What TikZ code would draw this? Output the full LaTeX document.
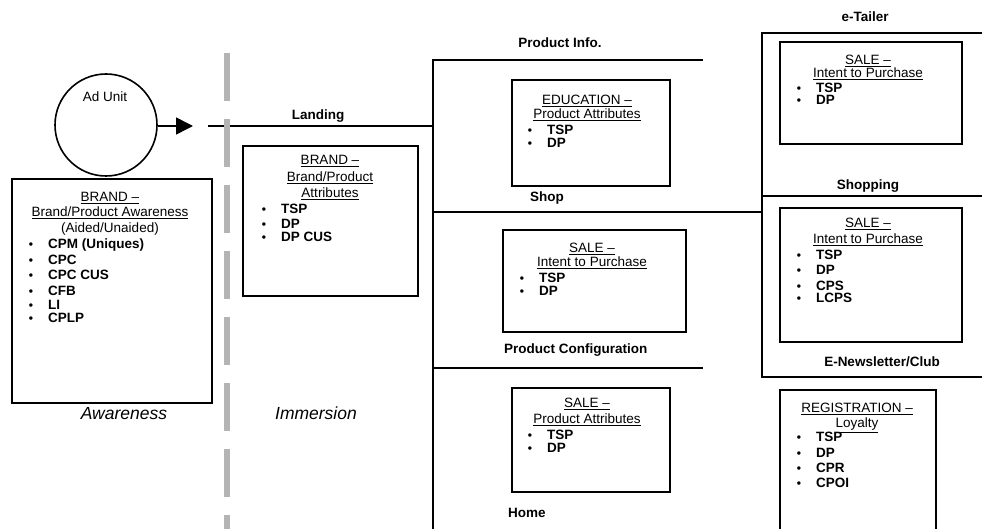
\documentclass[tikz,border=0pt]{standalone}
\usepackage{fontspec}
\setmainfont{Liberation Sans}
\usetikzlibrary{arrows.meta}
\definecolor{dashgray}{RGB}{180,180,180}
\tikzset{
  frame/.style={draw, line width=1.6pt, inner sep=0pt},
  hd/.style={inner sep=0pt, font=\fontsize{13.5}{15}\selectfont, text height=9.6pt, text depth=0pt},
  bi/.style={inner sep=0pt, font=\fontsize{13.5}{15}\selectfont\bfseries, text height=9.6pt, text depth=0pt, anchor=west},
  bul/.style={inner sep=0pt, font=\fontsize{12}{15}\selectfont\bfseries, text height=8.6pt, text depth=0pt},
  lbl/.style={inner sep=0pt, font=\fontsize{13.5}{15}\selectfont\bfseries, text height=9.6pt, text depth=0pt},
  stage/.style={inner sep=0pt, font=\fontsize{17.5}{20}\selectfont\itshape, text height=12.5pt, text depth=0pt},
  rulew/.style={line width=1.6pt},
}
\newcommand{\itm}[4]{\node[bul] (#1b) at (#2,#3) {•}; \node[bi] (#1) at (#2+17,#3) {#4};}
\begin{document}
\begin{tikzpicture}[x=1pt,y=-1pt]
\useasboundingbox (0,0) rectangle (982,529);
\clip (0,0) rectangle (982,529);

% ---- Ad unit and arrow
\node[draw, circle, line width=1.6pt, minimum size=102pt, inner sep=0pt] (ad) at (106,125) {};
\node[hd] (adl) at (105,97) {Ad Unit};
\coordinate (arrtip) at (193,126);
\draw[rulew, -{Triangle[length=17pt,width=17pt]}] (ad.east |- arrtip) -- (arrtip);

% ---- Landing line and structure lines
\coordinate (landS) at (208,126);
\coordinate (landE) at (433,126);
\coordinate (vtop) at (433,60);
\coordinate (vbot) at (433,540);
\coordinate (piE) at (703,60);
\coordinate (shopS) at (433,212);
\coordinate (shopE) at (762,212);
\coordinate (pcS) at (433,368);
\coordinate (pcE) at (703,368);
\draw[rulew] (landS) -- (landE);
\draw[rulew] (piE) -- (vtop) -- (vbot);
\draw[rulew] (shopS) -- (shopE);
\draw[rulew] (pcS) -- (pcE);

% ---- gray dashed divider
\coordinate (gtop) at (227,53);
\coordinate (gbot) at (227,560);
\draw[dashgray, line width=6pt, dash pattern=on 48pt off 18pt] (gtop) -- (gbot);

% ---- Awareness box
\node[frame, minimum width=200pt, minimum height=224pt] (aw) at (112,291) {};
\node[hd] (awh1) at (110,197) {\underline{BRAND –}};
\node[hd] (awh2) at (110,212) {\underline{Brand/Product Awareness}};
\node[hd] (awh3) at (110,228) {(Aided/Unaided)};
\itm{aw1}{31}{244}{CPM (Uniques)}
\itm{aw2}{31}{260}{CPC}
\itm{aw3}{31}{275}{CPC CUS}
\itm{aw4}{31}{291}{CFB}
\itm{aw5}{31}{305}{LI}
\itm{aw6}{31}{318}{CPLP}
\node[stage] (awareness) at (124,413) {Awareness};

% ---- Landing box
\node[lbl] (landing) at (318,115) {Landing};
\node[frame, minimum width=175pt, minimum height=150pt] (br) at (330.5,221) {};
\node[hd] (brh1) at (330,160) {\underline{BRAND –}};
\node[hd] (brh2) at (330,177) {\underline{Brand/Product}};
\node[hd] (brh3) at (330,193) {\underline{Attributes}};
\itm{br1}{264}{209}{TSP}
\itm{br2}{264}{224}{DP}
\itm{br3}{264}{237}{DP CUS}
\node[stage] (immersion) at (316,413) {Immersion};

% ---- Product info
\node[lbl] (pinfo) at (560,43) {Product Info.};
\node[frame, minimum width=158pt, minimum height=106pt] (ed) at (591,133) {};
\node[hd] (edh1) at (587,100) {\underline{EDUCATION –}};
\node[hd] (edh2) at (587,114) {\underline{Product Attributes}};
\itm{ed1}{530}{130}{TSP}
\itm{ed2}{530}{143}{DP}
\node[lbl, anchor=west] (shop) at (530,197) {Shop};

% ---- Shop box
\node[frame, minimum width=183pt, minimum height=102pt] (s1) at (594.5,281) {};
\node[hd] (s1h1) at (592,248) {\underline{SALE –}};
\node[hd] (s1h2) at (592,262) {\underline{Intent to Purchase}};
\itm{s1a}{522}{278}{TSP}
\itm{s1b}{522}{291}{DP}
\node[lbl, anchor=west] (pconf) at (504,349) {Product Configuration};

% ---- Product configuration box
\node[frame, minimum width=158pt, minimum height=104pt] (s2) at (591,440) {};
\node[hd] (s2h1) at (587,403) {\underline{SALE –}};
\node[hd] (s2h2) at (587,419) {\underline{Product Attributes}};
\itm{s2a}{530}{435}{TSP}
\itm{s2b}{530}{448}{DP}
\node[lbl, anchor=west] (home) at (508,513) {Home};

% ---- Right column
\node[lbl] (etailer) at (865,17) {e-Tailer};
\node[frame, minimum width=238pt, minimum height=344pt] (outer) at (881,205) {};
\coordinate (divL) at (762,196);
\coordinate (divR) at (1000,196);
\draw[rulew] (divL) -- (divR);
\node[frame, minimum width=182pt, minimum height=102pt] (r1) at (871,93) {};
\node[hd] (r1h1) at (868,60) {\underline{SALE –}};
\node[hd] (r1h2) at (868,73) {\underline{Intent to Purchase}};
\itm{r1a}{799}{88}{TSP}
\itm{r1b}{799}{100}{DP}
\node[lbl] (shopping) at (868,185) {Shopping};

\node[frame, minimum width=182pt, minimum height=134pt] (r2) at (871,275) {};
\node[hd] (r2h1) at (868,223) {\underline{SALE –}};
\node[hd] (r2h2) at (868,239) {\underline{Intent to Purchase}};
\itm{r2a}{799}{255}{TSP}
\itm{r2b}{799}{270}{DP}
\itm{r2c}{799}{286}{CPS}
\itm{r2d}{799}{298}{LCPS}
\node[lbl] (enews) at (882,362) {E-Newsletter/Club};

\node[frame, minimum width=156pt, minimum height=160pt] (rg) at (858,470) {};
\node[hd] (rgh1) at (857,408) {\underline{REGISTRATION –}};
\node[hd] (rgh2) at (857,423) {\underline{Loyalty}};
\itm{rg1}{799}{437}{TSP}
\itm{rg2}{799}{453}{DP}
\itm{rg3}{799}{468}{CPR}
\itm{rg4}{799}{483}{CPOI}
\end{tikzpicture}
\end{document}
